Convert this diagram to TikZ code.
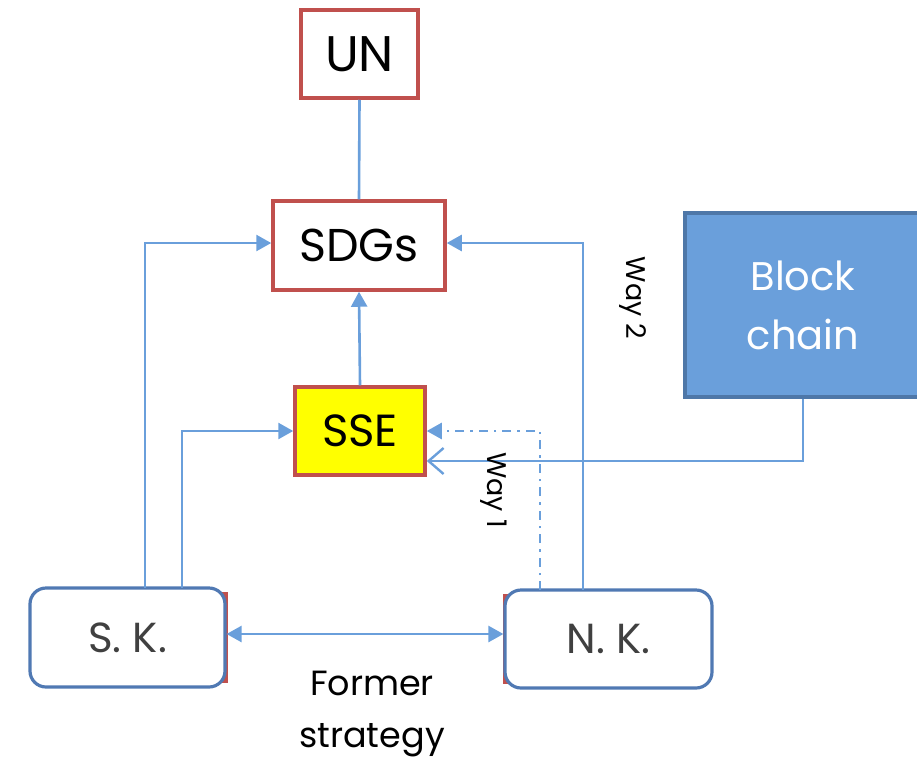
\documentclass[tikz,border=0pt]{standalone}
\usepackage{fontspec}
\setmainfont{Poppins}
\usetikzlibrary{arrows.meta}
\definecolor{redb}{HTML}{C0504D}
\definecolor{lnblue}{HTML}{6A9FDB}
\definecolor{bcfill}{HTML}{6A9FDB}
\definecolor{bcdraw}{HTML}{4E77A8}
\definecolor{kdraw}{HTML}{5079B3}
\definecolor{sseyel}{HTML}{FFFF00}
\begin{document}
\begin{tikzpicture}[x=1pt,y=-1pt,
  redbox/.style={draw=redb,line width=3.5pt,fill=white,inner sep=0pt},
  kbox/.style={draw=kdraw,line width=3.2pt,fill=white,rounded corners=16pt,inner sep=0pt},
  conn/.style={draw=lnblue,line width=2.6pt},
  farrow/.style={-{Triangle[length=15pt,width=16pt]}},
  lbl/.style={font=\fontsize{27}{30}\selectfont}]
\useasboundingbox (0,0) rectangle (917,758);
\begin{scope}
\clip (0,0) rectangle (917,758);
% red edges behind K boxes
\fill[redb] (218,592) rectangle (228,683);
\fill[redb] (503,594) rectangle (512,684);
\node[redbox,minimum width=117pt,minimum height=88pt,font=\fontsize{50}{52}\selectfont] (un) at (359.5,54) {UN};
\node[redbox,minimum width=172pt,minimum height=89pt,font=\fontsize{46}{48}\selectfont] (sdgs) at (359,245.5) {SDGs};
\node[redbox,fill=sseyel,minimum width=130pt,minimum height=88pt,font=\fontsize{45}{48}\selectfont] (sse) at (360,431) {SSE};
\node[draw=bcdraw,line width=3.5pt,fill=bcfill,minimum width=240pt,minimum height=184pt,inner sep=0pt] (bc) at (805,305) {};
\node[text=white,align=center,font=\fontsize{40}{59}\selectfont] (bct) at (803,305) {Block\\chain};
\node[kbox,minimum width=195pt,minimum height=99pt,text=gray!50!black,font=\fontsize{42}{44}\selectfont] (sk) at (127.5,637.5) {S. K.};
\node[kbox,minimum width=207pt,minimum height=98pt,text=gray!50!black,font=\fontsize{42}{44}\selectfont] (nk) at (608.5,639) {N. K.};
\end{scope}
% connectors
\draw[conn] (un.south) -- (sdgs.north);
\draw[conn,farrow] (sse.north) -- (sdgs.south);
\coordinate (sk1) at (145,588);
\coordinate (sk2) at (182,588);
\coordinate (nk1) at (583,590);
\coordinate (nk2) at (540,590);
\draw[conn,farrow] (sk1) |- (sdgs.west |- 0,243);
\draw[conn,farrow] (sk2) |- (sse.west);
\draw[conn,farrow] (nk1) |- (sdgs.east |- 0,243);
\draw[conn,farrow,dash pattern=on 9pt off 6pt on 2.5pt off 6pt] (nk2) |- (sse.east);
\draw[conn,-{Straight Barb[length=15pt,width=26pt,line width=2.4pt]}] (bc.south -| 803,0) |- (sse.east |- 0,461);
\draw[conn,{Triangle[length=15pt,width=16pt]}-{Triangle[length=15pt,width=16pt]}] (sk.east |- 0,634) -- (nk.west |- 0,634);
% labels
\node[lbl,rotate=-90] (w2) at (633,298) {Way 2};
\node[lbl,rotate=-90] (w1) at (494,490) {Way 1};
\node[align=center,font=\fontsize{35}{52}\selectfont] (fs) at (372,714) {Former\\strategy};
\end{tikzpicture}
\end{document}
